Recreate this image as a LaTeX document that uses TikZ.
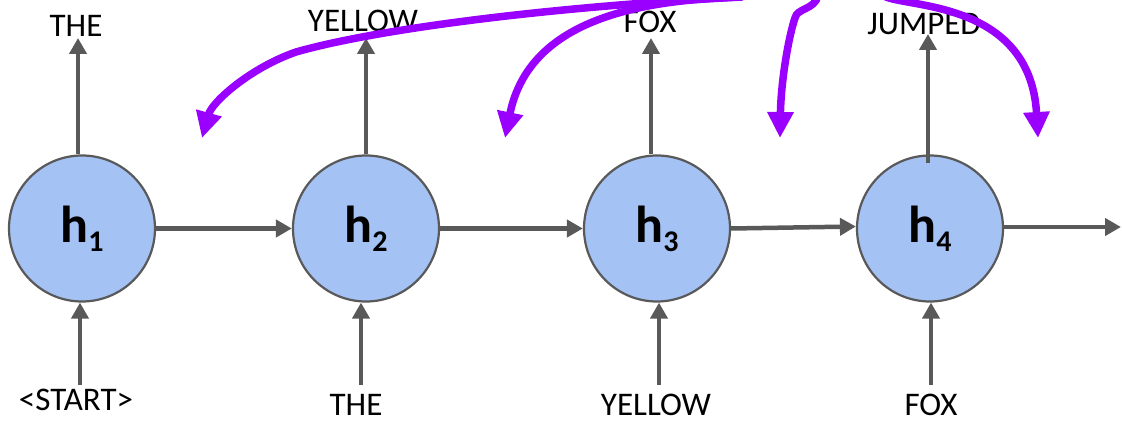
\documentclass[tikz,border=0pt]{standalone}
\usepackage{fontspec}
\setmainfont{Carlito}
\usetikzlibrary{arrows.meta}
\definecolor{cellblue}{HTML}{A4C2F4}
\definecolor{linegray}{HTML}{595959}
\definecolor{attnpurple}{HTML}{9900FF}
% bold "h" with a lowered index
\newcommand\hlab[1]{\bfseries\fontsize{52}{52}\selectfont h\raisebox{-9pt}{\fontsize{30}{30}\selectfont #1}}
\begin{document}
\begin{tikzpicture}[x=1pt, y=-1pt,
  cell/.style={circle, draw=linegray, line width=2.2pt, fill=cellblue,
    minimum size=146pt, inner sep=0pt},
  word/.style={anchor=base, inner sep=0pt, font=\fontsize{33}{33}\selectfont},
  flow/.style={draw=linegray, line width=4.5pt, -{Triangle[width=17pt,length=16pt]}},
  attn/.style={draw=attnpurple, line width=7.5pt, line cap=round,
    -{Triangle[width=25pt,length=26pt]}}]

\useasboundingbox (0,0) rectangle (1122,422);

% hidden states
\node[cell] (h1) at (82,228.5)  {\hlab{1}};
\node[cell] (h2) at (366,228.5) {\hlab{2}};
\node[cell] (h3) at (657,228.5) {\hlab{3}};
\node[cell] (h4) at (930,228.5) {\hlab{4}};

% output words
\node[word] (t1) at (76,37)  {THE};
\node[word] (t2) at (363,32) {YELLOW};
\node[word] (t3) at (650,33) {FOX};
\node[word] (t4) at (924,35) {JUMPED};

% input words
\node[word] (b1) at (76,410)  {<START>};
\node[word] (b2) at (356,415) {THE};
\node[word] (b3) at (656,415) {YELLOW};
\node[word] (b4) at (931,415) {FOX};

% recurrent connections
\coordinate (out) at (1121,227);
\draw[flow] (h1) -- (h2);
\draw[flow] (h2) -- (h3);
\draw[flow] (h3.east) -- ([yshift=2pt]h4.west);
\draw[flow] (h4.east |- out) -- (out);

% outputs
\coordinate (u1) at (78,38);
\coordinate (u2) at (366,38);
\coordinate (u3) at (651,38);
\coordinate (u4) at (928,34);
\draw[flow] (u1 |- h1.north) -- (u1);
\draw[flow] (u2 |- h2.north) -- (u2);
\draw[flow] (u3 |- h3.north) -- (u3);
\draw[flow] ([yshift=-9pt]u4 |- h4.north) -- (u4);

% inputs
\coordinate (d1) at (80,385);
\coordinate (d2) at (361,385);
\coordinate (d3) at (659,385);
\coordinate (d4) at (931,385);
\draw[flow] (d1) -- (d1 |- h1.south);
\draw[flow] (d2) -- (d2 |- h2.south);
\draw[flow] (d3) -- (d3 |- h3.south);
\draw[flow] (d4) -- (d4 |- h4.south);

% attention strokes coming from above
\coordinate (s1) at (742,-3);
\coordinate (m1) at (296,52);
\coordinate (e1) at (202,138);
\coordinate (s2) at (740,-3);
\coordinate (e2) at (505,138);
\coordinate (s3) at (818,-4);
\coordinate (k3) at (795,18);
\coordinate (e3) at (780,138);
\coordinate (s4) at (884,-4);
\coordinate (e4) at (1038,138);
\draw[attn] (s1) .. controls (560,6) and (380,28) .. (m1)
               .. controls (250,68) and (212,102) .. (e1);
\draw[attn] (s2) .. controls (650,0) and (530,15) .. (e2);
\draw[attn] (s3) .. controls (814,10) and (797,8) .. (k3)
               .. controls (789,35) and (781,80) .. (e3);
\draw[attn] (s4) .. controls (905,8) and (1030,0) .. (e4);
\end{tikzpicture}
\end{document}
